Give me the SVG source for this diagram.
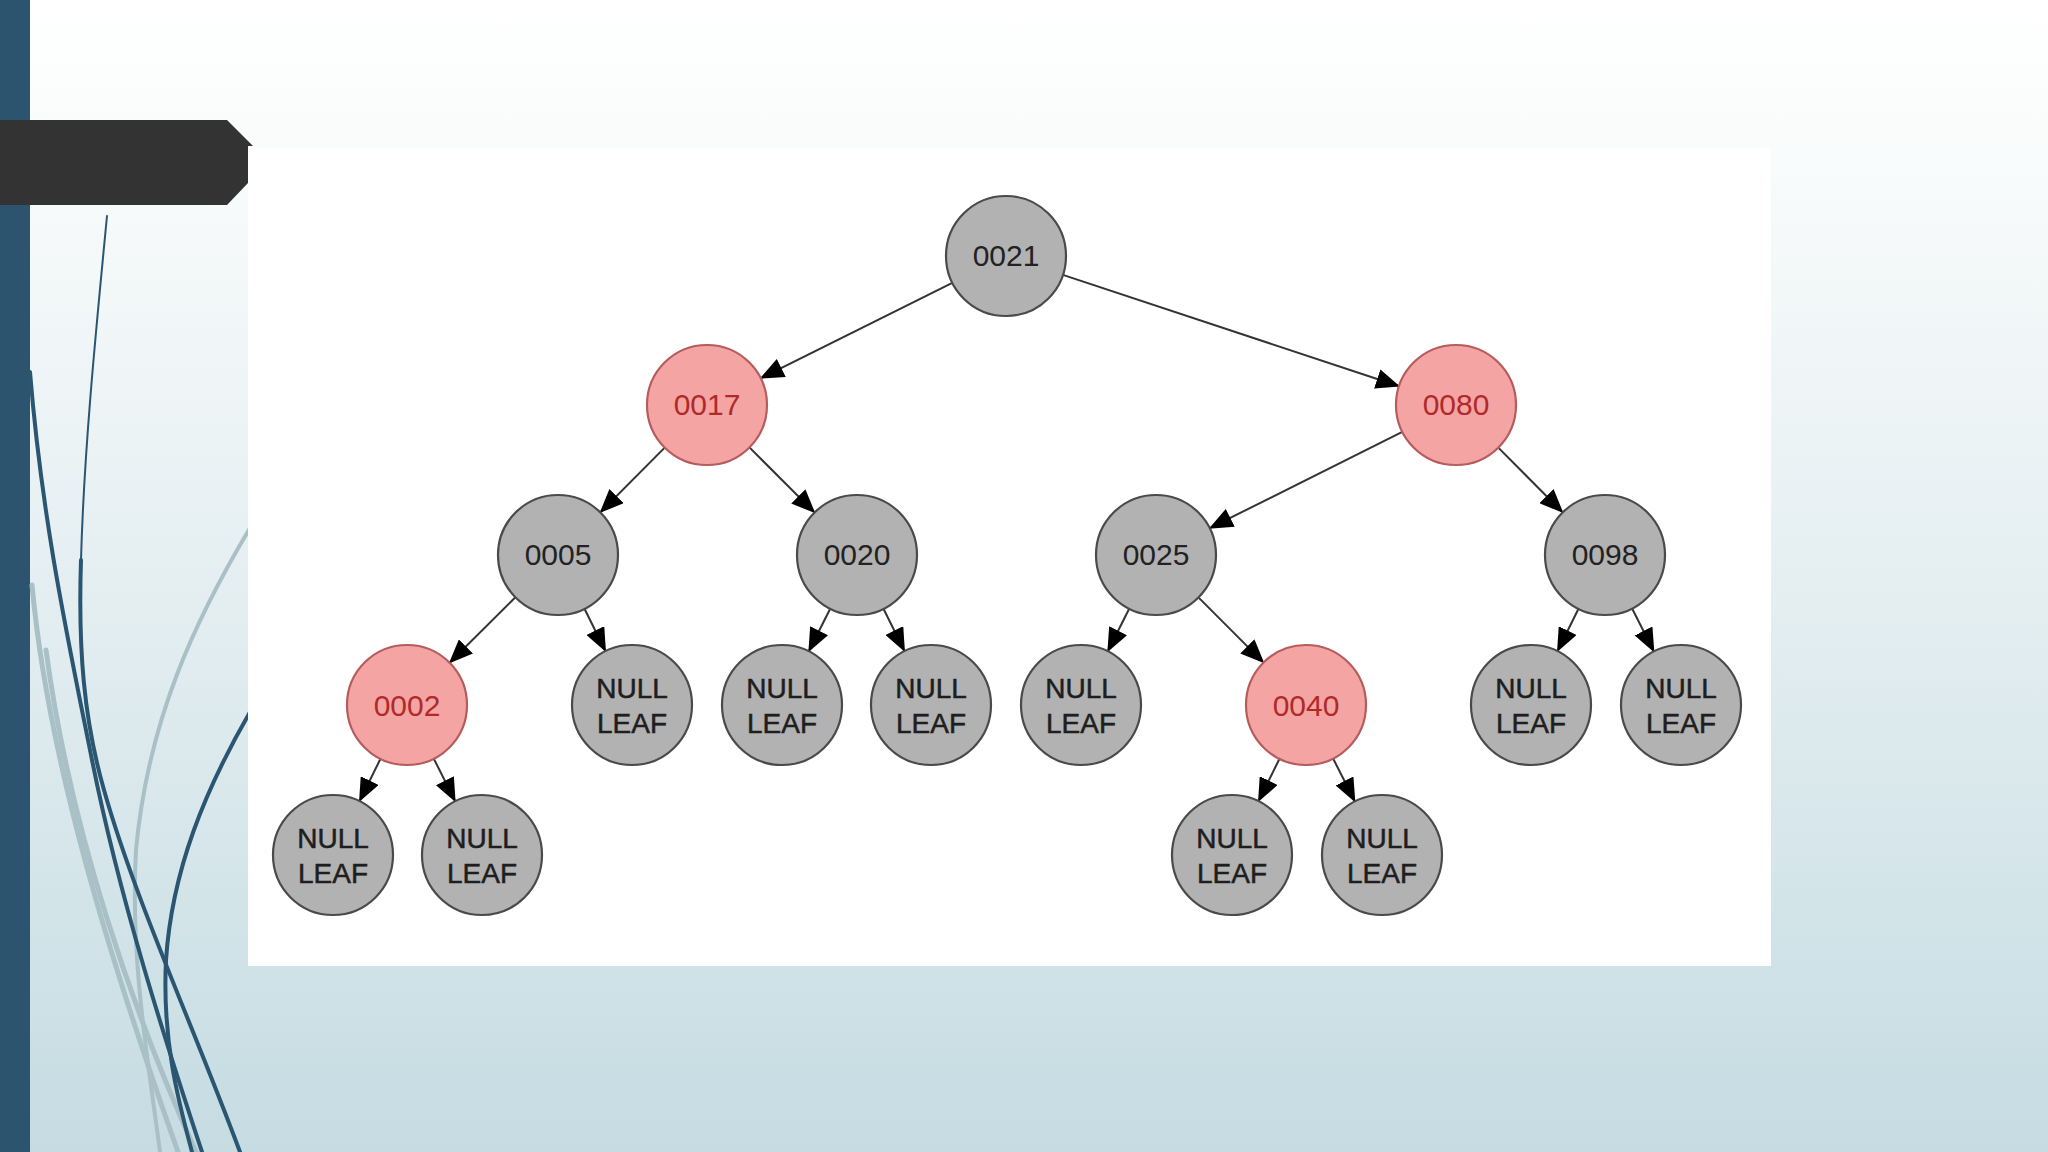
<svg xmlns="http://www.w3.org/2000/svg" width="2048" height="1152" viewBox="0 0 2048 1152">
  <defs>
    <linearGradient id="bg" x1="0" y1="0" x2="0" y2="1">
      <stop offset="0" stop-color="#ffffff"/>
      <stop offset="0.12" stop-color="#fafcfc"/>
      <stop offset="0.55" stop-color="#e2edf0"/>
      <stop offset="1" stop-color="#c5dce2"/>
    </linearGradient>
    <marker id="arrow" markerUnits="userSpaceOnUse" viewBox="0 0 24 20" markerWidth="24" markerHeight="20" refX="23" refY="10" orient="auto">
      <path d="M0,0 L24,10 L0,20 z" fill="#000"/>
    </marker>
  </defs>
  <style>
    .edge { stroke: #333; stroke-width: 2; fill: none; marker-end: url(#arrow); }
    .black circle { fill: #b2b2b2; stroke: #4a4a4a; stroke-width: 2.2; }
    .red circle { fill: #f5a4a4; stroke: #b65c5c; stroke-width: 2.2; }
    .num { font-family: "Liberation Sans", Arial, sans-serif; font-size: 30px; text-anchor: middle; }
    .black .num { fill: #222; }
    .red .num { fill: #b02a2a; }
    .leaf { font-family: "Liberation Sans", Arial, sans-serif; font-size: 28px; text-anchor: middle; fill: #1e1e1e; stroke: #1e1e1e; stroke-width: 0.5; }
    .dark { fill: none; stroke: #2b5672; stroke-linecap: round; }
    .grey { fill: none; stroke: #a9c0c7; stroke-linecap: round; }
  </style>

  <!-- slide background -->
  <rect x="0" y="0" width="2048" height="1152" fill="url(#bg)"/>
  <rect x="0" y="0" width="30" height="1152" fill="#2d546e"/>

  <!-- decorative swooshes -->
  <g id="swooshes">
    <path class="grey" stroke-width="5" d="M32,585 C48,760 110,960 178,1152"/>
    <path class="grey" stroke-width="5" d="M46,650 C70,830 132,1010 196,1152"/>
    <path class="grey" stroke-width="4" d="M250,528 C195,620 148,720 136,850 C130,960 148,1060 160,1152"/>
    <path class="dark" stroke-width="2" d="M107,216 C96,330 84,450 81,560"/>
    <path class="dark" stroke-width="4" d="M81,560 C78,650 84,720 104,790 C135,900 195,1030 240,1152"/>
    <path class="dark" stroke-width="4" d="M30,372 C42,520 68,640 92,760 C120,900 165,1040 202,1152"/>
    <path class="dark" stroke-width="4" d="M250,712 C205,790 172,870 166,960 C162,1040 178,1100 192,1152"/>
  </g>

  <!-- white picture panel -->
  <rect x="248" y="148" width="1523" height="818" fill="#ffffff"/>

  <!-- dark title tab -->
  <polygon points="0,120 227,120 253,146 248,146 248,183 227,205 0,205" fill="#333333"/>

  <g id="connectors">
    <line class="edge" x1="952.3" y1="282.8" x2="760.7" y2="378.2"/>
    <line class="edge" x1="1062.9" y1="274.9" x2="1399.1" y2="386.2"/>
    <line class="edge" x1="664.7" y1="447.6" x2="600.3" y2="512.4"/>
    <line class="edge" x1="749.4" y1="447.4" x2="814.6" y2="512.6"/>
    <line class="edge" x1="1402.3" y1="431.8" x2="1209.7" y2="528.2"/>
    <line class="edge" x1="1498.3" y1="447.6" x2="1562.7" y2="512.4"/>
    <line class="edge" x1="515.4" y1="597.3" x2="449.6" y2="662.7"/>
    <line class="edge" x1="584.5" y1="608.8" x2="605.5" y2="651.2"/>
    <line class="edge" x1="830.2" y1="608.7" x2="808.8" y2="651.3"/>
    <line class="edge" x1="883.5" y1="608.8" x2="904.5" y2="651.2"/>
    <line class="edge" x1="1129.2" y1="608.7" x2="1107.8" y2="651.3"/>
    <line class="edge" x1="1198.4" y1="597.4" x2="1263.6" y2="662.6"/>
    <line class="edge" x1="1578.5" y1="608.8" x2="1557.5" y2="651.2"/>
    <line class="edge" x1="1632.1" y1="608.5" x2="1653.9" y2="651.5"/>
    <line class="edge" x1="380.5" y1="758.8" x2="359.5" y2="801.2"/>
    <line class="edge" x1="433.8" y1="758.7" x2="455.2" y2="801.3"/>
    <line class="edge" x1="1279.5" y1="758.8" x2="1258.5" y2="801.2"/>
    <line class="edge" x1="1333.1" y1="758.5" x2="1354.9" y2="801.5"/>
  </g>

  <g id="n0021" class="black"><circle cx="1006" cy="256" r="60"/><text class="num" x="1006" y="266">0021</text></g>
  <g id="n0017" class="red"><circle cx="707" cy="405" r="60"/><text class="num" x="707" y="415">0017</text></g>
  <g id="n0080" class="red"><circle cx="1456" cy="405" r="60"/><text class="num" x="1456" y="415">0080</text></g>
  <g id="n0005" class="black"><circle cx="558" cy="555" r="60"/><text class="num" x="558" y="565">0005</text></g>
  <g id="n0020" class="black"><circle cx="857" cy="555" r="60"/><text class="num" x="857" y="565">0020</text></g>
  <g id="n0025" class="black"><circle cx="1156" cy="555" r="60"/><text class="num" x="1156" y="565">0025</text></g>
  <g id="n0098" class="black"><circle cx="1605" cy="555" r="60"/><text class="num" x="1605" y="565">0098</text></g>
  <g id="n0002" class="red"><circle cx="407" cy="705" r="60"/><text class="num" x="407" y="716">0002</text></g>
  <g id="n0040" class="red"><circle cx="1306" cy="705" r="60"/><text class="num" x="1306" y="716">0040</text></g>

  <g id="leaf1" class="black"><circle cx="632" cy="705" r="60"/><text class="leaf" x="632" y="698">NULL</text><text class="leaf" x="632" y="733">LEAF</text></g>
  <g id="leaf2" class="black"><circle cx="782" cy="705" r="60"/><text class="leaf" x="782" y="698">NULL</text><text class="leaf" x="782" y="733">LEAF</text></g>
  <g id="leaf3" class="black"><circle cx="931" cy="705" r="60"/><text class="leaf" x="931" y="698">NULL</text><text class="leaf" x="931" y="733">LEAF</text></g>
  <g id="leaf4" class="black"><circle cx="1081" cy="705" r="60"/><text class="leaf" x="1081" y="698">NULL</text><text class="leaf" x="1081" y="733">LEAF</text></g>
  <g id="leaf5" class="black"><circle cx="1531" cy="705" r="60"/><text class="leaf" x="1531" y="698">NULL</text><text class="leaf" x="1531" y="733">LEAF</text></g>
  <g id="leaf6" class="black"><circle cx="1681" cy="705" r="60"/><text class="leaf" x="1681" y="698">NULL</text><text class="leaf" x="1681" y="733">LEAF</text></g>
  <g id="leaf7" class="black"><circle cx="333" cy="855" r="60"/><text class="leaf" x="333" y="848">NULL</text><text class="leaf" x="333" y="883">LEAF</text></g>
  <g id="leaf8" class="black"><circle cx="482" cy="855" r="60"/><text class="leaf" x="482" y="848">NULL</text><text class="leaf" x="482" y="883">LEAF</text></g>
  <g id="leaf9" class="black"><circle cx="1232" cy="855" r="60"/><text class="leaf" x="1232" y="848">NULL</text><text class="leaf" x="1232" y="883">LEAF</text></g>
  <g id="leaf10" class="black"><circle cx="1382" cy="855" r="60"/><text class="leaf" x="1382" y="848">NULL</text><text class="leaf" x="1382" y="883">LEAF</text></g>
</svg>
